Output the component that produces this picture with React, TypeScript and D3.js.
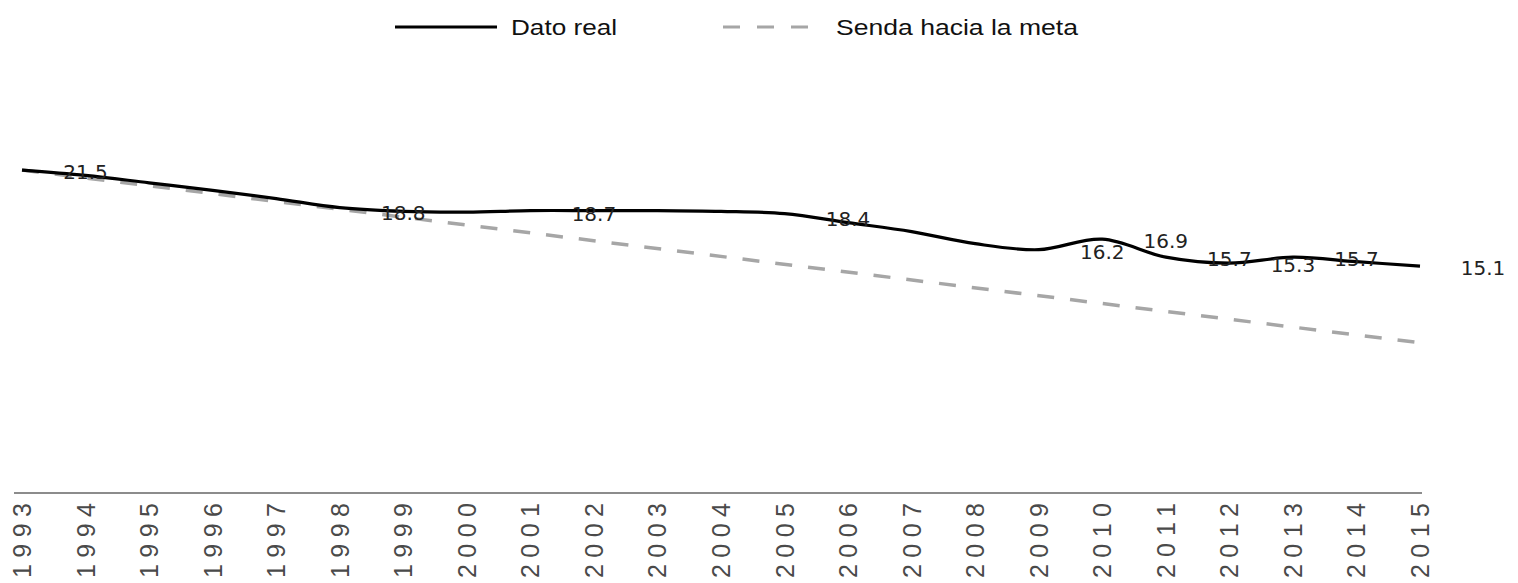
import React from "react";
import * as d3 from "d3";

const years: number[] = d3.range(1993, 2016);
const realValues: number[] = [
  21.5, 21.15, 20.65, 20.15, 19.6, 19.0, 18.75, 18.7, 18.8, 18.8, 18.8, 18.75,
  18.6, 18.0, 17.4, 16.6, 16.2, 16.9, 15.7, 15.3, 15.7, 15.4, 15.1,
];
const pathYears: number[] = [1993, 2015];
const pathValues: number[] = [21.5, 10.0];
const labelYears: number[] = [1994, 1999, 2002, 2006, 2010, 2011, 2012, 2013, 2014, 2015];
const labelValues: number[] = [21.5, 18.8, 18.7, 18.4, 16.2, 16.9, 15.7, 15.3, 15.7, 15.1];
const legendItems: string[] = ["Dato real", "Senda hacia la meta"];

const W = 1518;
const H = 583;

export default function App() {
  const x = d3.scaleLinear().domain([1993, 2015]).range([22, 1420]);
  const y = d3.scaleLinear().domain([0, 25]).range([493, 117.5]);

  const realLine = d3
    .line<number>()
    .x((_, i) => x(years[i]))
    .y((d) => y(d))
    .curve(d3.curveCatmullRom.alpha(0.5));

  const pathLine = d3
    .line<number>()
    .x((_, i) => x(pathYears[i]))
    .y((d) => y(d));

  const labelFont = "'DejaVu Sans', sans-serif";
  const tickFont = "'Liberation Sans', Arial, sans-serif";
  const legendFont = "'Liberation Sans Narrow', 'Liberation Sans', sans-serif";

  return (
    <svg
      width={W}
      height={H}
      style={{ position: "absolute", left: 0, top: 0, background: "#fff" }}
    >
      {/* legend */}
      <line x1={395} x2={497} y1={27} y2={27} stroke="#000" strokeWidth={3} />
      <text
        x={511}
        y={35}
        fontFamily={legendFont}
        fontSize={22}
        fill="#111"
        textLength={106}
        lengthAdjust="spacingAndGlyphs"
      >
        {legendItems[0]}
      </text>
      <line
        x1={723}
        x2={808}
        y1={27}
        y2={27}
        stroke="#a6a6a6"
        strokeWidth={3}
        strokeDasharray="17 17"
      />
      <text
        x={836}
        y={35}
        fontFamily={legendFont}
        fontSize={22}
        fill="#111"
        textLength={242}
        lengthAdjust="spacingAndGlyphs"
      >
        {legendItems[1]}
      </text>

      {/* axis line */}
      <line x1={14} x2={1422} y1={y(0)} y2={y(0)} stroke="#8c8c8c" strokeWidth={2} />
      {years.map((yr) => (
        <text
          key={yr}
          transform={`translate(${x(yr)},${y(0) + 10}) rotate(-90)`}
          textAnchor="end"
          dy="0.36em"
          fontFamily={tickFont}
          fontSize={25}
          fill="#4a4a4a"
          textLength={75}
          lengthAdjust="spacing"
        >
          {yr}
        </text>
      ))}

      {/* path to target */}
      <path
        d={pathLine(pathValues) || ""}
        fill="none"
        stroke="#a6a6a6"
        strokeWidth={3.5}
        strokeDasharray="17 16"
      />

      {/* real data */}
      <path d={realLine(realValues) || ""} fill="none" stroke="#000" strokeWidth={3.2} />

      {/* data labels */}
      {labelValues.map((v, i) => (
        <text
          key={i}
          x={x(labelYears[i]) + (i === labelValues.length - 1 ? 63 : 0)}
          y={y(v) + 2}
          dy="0.35em"
          textAnchor="middle"
          fontFamily={labelFont}
          fontSize={20}
          fill="#222"
        >
          {v.toFixed(1)}
        </text>
      ))}
    </svg>
  );
}
